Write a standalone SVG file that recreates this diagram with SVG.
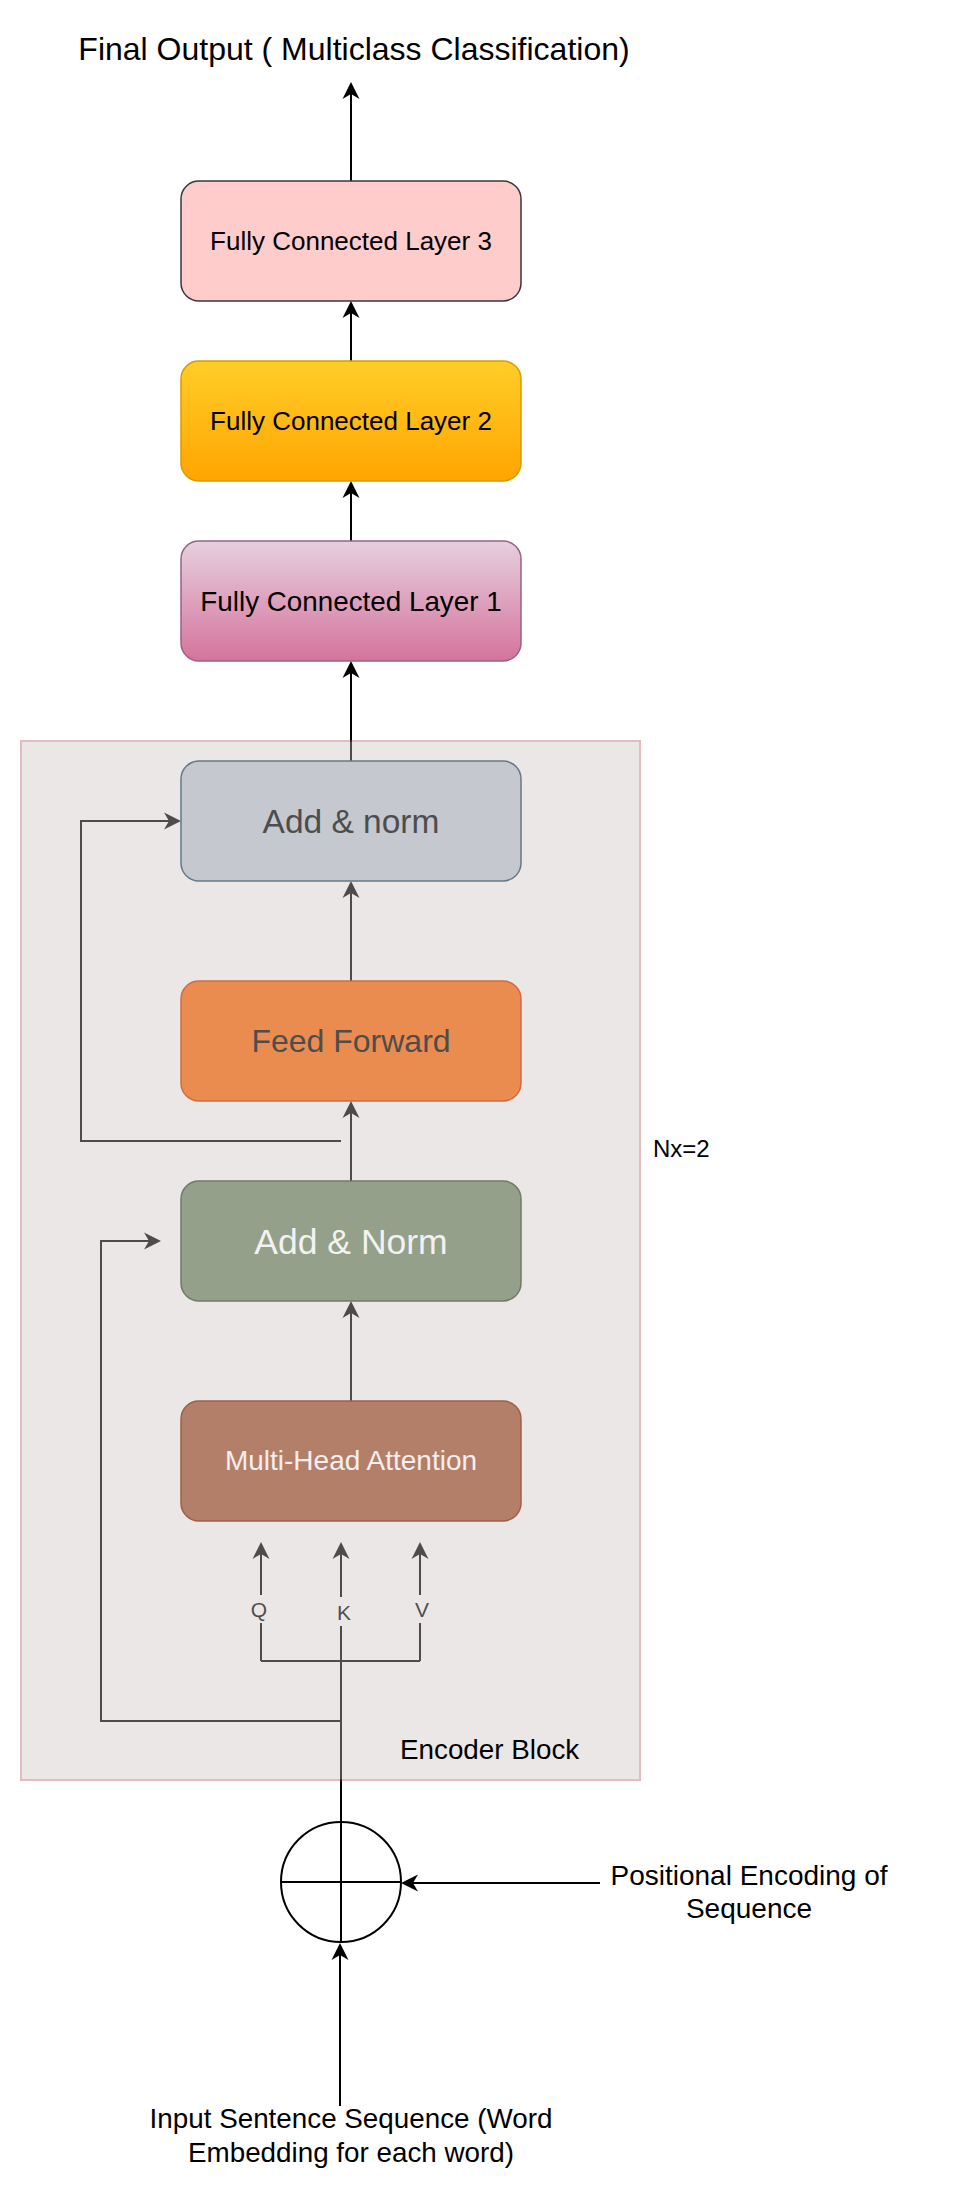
<svg xmlns="http://www.w3.org/2000/svg" width="962" height="2186" viewBox="0 0 962 2186">
  <style>
    text { font-family: "Liberation Sans", Arial, Helvetica, sans-serif; }
    .box { stroke-width: 1.5; }
    .lbl { text-anchor: middle; }
    .conn { fill: none; stroke: #000; stroke-width: 2; }
  </style>
  <defs>
    <marker id="arr" markerUnits="userSpaceOnUse" markerWidth="40" markerHeight="40" refX="0" refY="0" orient="auto" overflow="visible">
      <path d="M12,0 L-5,-8.5 L0,0 L-5,8.5 Z" fill="#000"/>
    </marker>
    <linearGradient id="gFC2" x1="0" y1="0" x2="0" y2="1">
      <stop offset="0" stop-color="#FFCD28"/>
      <stop offset="1" stop-color="#FFA500"/>
    </linearGradient>
    <linearGradient id="gFC1" x1="0" y1="0" x2="0" y2="1">
      <stop offset="0" stop-color="#E6D0DE"/>
      <stop offset="1" stop-color="#D5739D"/>
    </linearGradient>
  </defs>

  <rect width="962" height="2186" fill="#FFFFFF"/>

  <g id="connectors">
    <!-- output -->
    <path class="conn" d="M351,181 V94" marker-end="url(#arr)"/>
    <path class="conn" d="M351,361 V313" marker-end="url(#arr)"/>
    <path class="conn" d="M351,541 V493" marker-end="url(#arr)"/>
    <path class="conn" d="M351,761 V673" marker-end="url(#arr)"/>
    <!-- encoder internal -->
    <path class="conn" d="M351,981 V893" marker-end="url(#arr)"/>
    <path class="conn" d="M351,1181 V1113" marker-end="url(#arr)"/>
    <path class="conn" d="M351,1401 V1313" marker-end="url(#arr)"/>
    <path class="conn" d="M341,1141 H81 V821 H169" marker-end="url(#arr)"/>
    <path class="conn" d="M341,1721 H101 V1241 H149" marker-end="url(#arr)"/>
    <!-- Q K V -->
    <path class="conn" d="M261,1661 V1623"/>
    <path class="conn" d="M261,1595 V1554" marker-end="url(#arr)"/>
    <path class="conn" d="M420,1661 V1623"/>
    <path class="conn" d="M420,1595 V1554" marker-end="url(#arr)"/>
    <path class="conn" d="M261,1661 H420"/>
    <path class="conn" d="M341,1942 V1626"/>
    <path class="conn" d="M341,1597 V1554" marker-end="url(#arr)"/>
    <text x="259" y="1617" class="lbl" font-size="21" fill="#000">Q</text>
    <text x="344" y="1620" class="lbl" font-size="21" fill="#000">K</text>
    <text x="422" y="1617" class="lbl" font-size="21" fill="#000">V</text>
    <!-- inputs -->
    <path class="conn" d="M600,1883 H413" marker-end="url(#arr)"/>
    <path class="conn" d="M340,2106 V1955" marker-end="url(#arr)"/>
  </g>

  <g id="encoder-block">
    <rect x="21" y="741" width="619" height="1039" fill="#CEC3C1" stroke="#B85450" stroke-width="2" opacity="0.384"/>
    <text x="400" y="1759" font-size="27.8" fill="#000">Encoder Block</text>
  </g>

  <g id="nx-label">
    <text x="653" y="1157" font-size="24" fill="#000">Nx=2</text>
  </g>

  <g id="title">
    <text x="354" y="60" class="lbl" font-size="32" fill="#000">Final Output ( Multiclass Classification)</text>
  </g>

  <g id="fc3">
    <rect class="box" x="181" y="181" width="340" height="120" rx="18" fill="#FFCCCC" stroke="#36393D"/>
    <text x="351" y="250" class="lbl" font-size="26" fill="#000">Fully Connected Layer 3</text>
  </g>

  <g id="fc2">
    <rect class="box" x="181" y="361" width="340" height="120" rx="18" fill="url(#gFC2)" stroke="#D79B00"/>
    <text x="351" y="430" class="lbl" font-size="26" fill="#000">Fully Connected Layer 2</text>
  </g>

  <g id="fc1">
    <rect class="box" x="181" y="541" width="340" height="120" rx="18" fill="url(#gFC1)" stroke="#996185"/>
    <text x="351" y="611" class="lbl" font-size="27.8" fill="#000">Fully Connected Layer 1</text>
  </g>

  <g id="add-norm-2">
    <rect class="box" x="181" y="761" width="340" height="120" rx="18" fill="#C5C8CF" stroke="#677889"/>
    <text x="351" y="833" class="lbl" font-size="33.5" fill="#4D4D4D">Add &amp; norm</text>
  </g>

  <g id="feed-forward">
    <rect class="box" x="181" y="981" width="340" height="120" rx="18" fill="#EA8C4F" stroke="#CF6A45"/>
    <text x="351" y="1052" class="lbl" font-size="32" fill="#4D4D4D">Feed Forward</text>
  </g>

  <g id="add-norm-1">
    <rect class="box" x="181" y="1181" width="340" height="120" rx="18" fill="#94A089" stroke="#6E7C63"/>
    <text x="351" y="1254" class="lbl" font-size="35.5" fill="#F2F2F2">Add &amp; Norm</text>
  </g>

  <g id="multi-head-attention">
    <rect class="box" x="181" y="1401" width="340" height="120" rx="18" fill="#B47F69" stroke="#9E5F49"/>
    <text x="351" y="1470" class="lbl" font-size="28" fill="#F5EEEE">Multi-Head Attention</text>
  </g>

  <g id="positional-sum">
    <circle cx="341" cy="1882" r="60" fill="none" stroke="#000" stroke-width="2"/>
    <line x1="281" y1="1882" x2="401" y2="1882" stroke="#000" stroke-width="2"/>
  </g>

  <g id="positional-encoding">
    <text x="749" y="1885" class="lbl" font-size="28" fill="#000">Positional Encoding of</text>
    <text x="749" y="1918" class="lbl" font-size="28" fill="#000">Sequence</text>
  </g>

  <g id="input-sequence">
    <text x="351" y="2128" class="lbl" font-size="27.8" fill="#000">Input Sentence Sequence (Word</text>
    <text x="351" y="2162" class="lbl" font-size="27.8" fill="#000">Embedding for each word)</text>
  </g>
</svg>
